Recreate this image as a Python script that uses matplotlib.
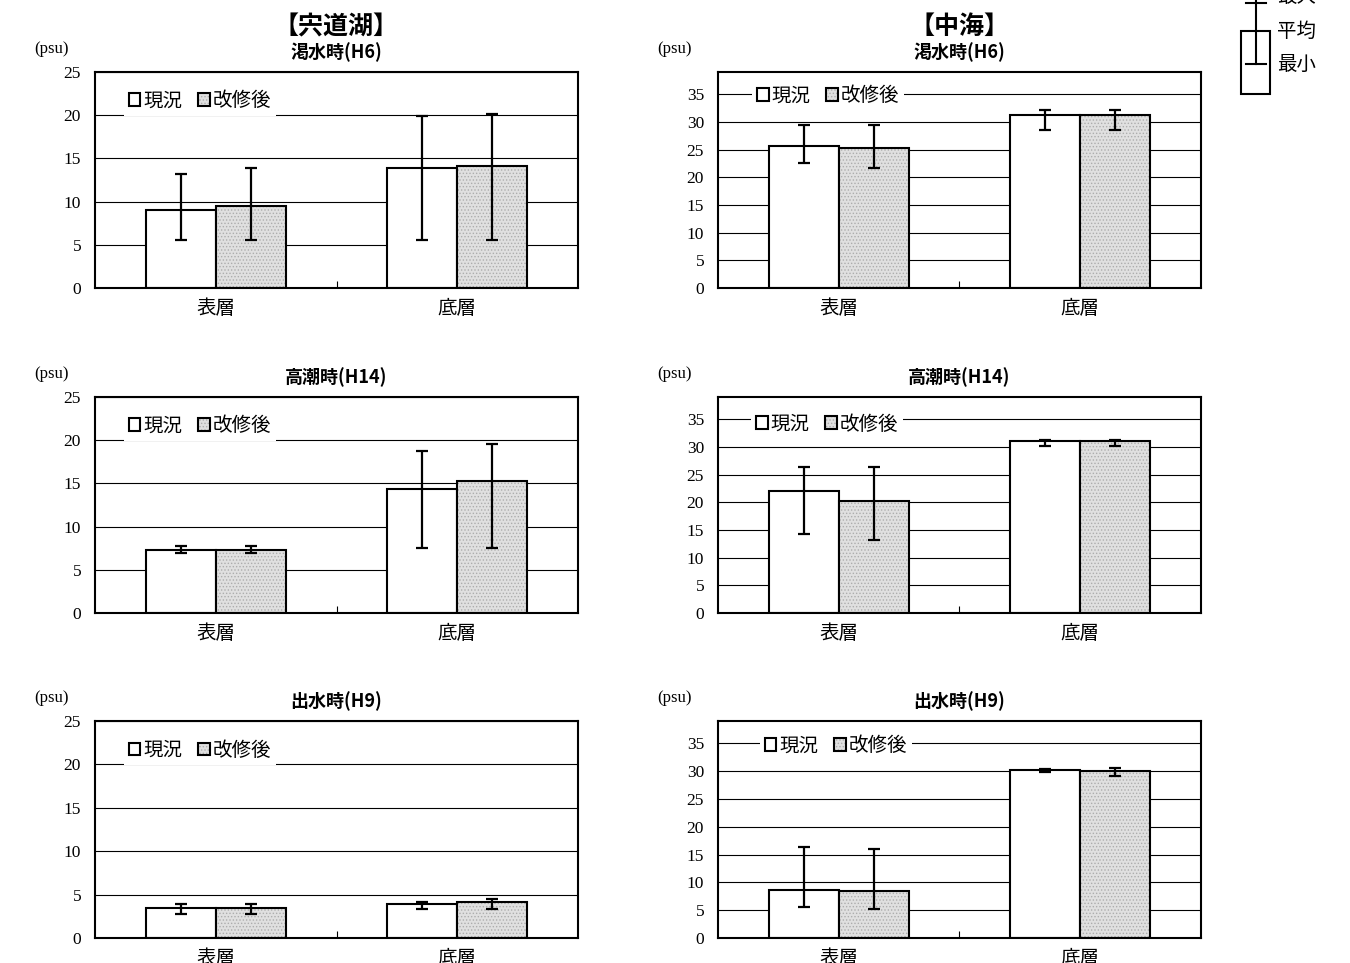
import matplotlib
matplotlib.use('Agg')
import matplotlib.pyplot as plt
from matplotlib.patches import Patch, Rectangle
from matplotlib.legend_handler import HandlerTuple

plt.rcParams['font.family'] = ['Noto Sans CJK JP', 'DejaVu Sans']
plt.rcParams['hatch.linewidth'] = 0.6

layers = ['表層', '底層']
series = ['現況', '改修後']
cases = ['渇水時(H6)', '高潮時(H14)', '出水時(H9)']
lakes = ['【宍道湖】', '【中海】']

# salinity (psu), indexed [case][series][layer]
shinji_avg = [[[9.0, 13.9], [9.5, 14.1]],
              [[7.3, 14.4], [7.3, 15.3]],
              [[3.5, 3.9], [3.5, 4.1]]]
shinji_max = [[[13.2, 19.9], [13.9, 20.1]],
              [[7.8, 18.7], [7.8, 19.6]],
              [[3.9, 4.1], [3.9, 4.5]]]
shinji_min = [[[5.6, 5.6], [5.6, 5.6]],
              [[6.9, 7.5], [6.9, 7.5]],
              [[2.8, 3.35], [2.8, 3.35]]]

nakaumi_avg = [[[25.6, 31.2], [25.3, 31.2]],
               [[22.1, 31.1], [20.2, 31.1]],
               [[8.7, 30.2], [8.5, 30.1]]]
nakaumi_max = [[[29.5, 32.2], [29.4, 32.2]],
               [[26.4, 31.3], [26.4, 31.3]],
               [[16.4, 30.45], [16.0, 30.6]]]
nakaumi_min = [[[22.5, 28.6], [21.6, 28.5]],
               [[14.2, 30.1], [13.2, 30.1]],
               [[5.6, 29.8], [5.2, 29.2]]]

lake_data = [(shinji_avg, shinji_max, shinji_min),
             (nakaumi_avg, nakaumi_max, nakaumi_min)]
lake_ticks = [list(range(0, 30, 5)), list(range(0, 40, 5))]
lake_ylim = [25, 39]

W, H = 1350, 963
fig = plt.figure(figsize=(W / 100, H / 100), dpi=100)

col_x = [95, 718]
ax_w = 483
row_y = [(72, 288), (397, 613), (721, 938)]
leg_pos = [[(0.217, 0.866), (0.217, 0.866), (0.217, 0.866)],
           [(0.228, 0.889), (0.226, 0.875), (0.244, 0.885)]]

bw = 0.29
x = [0, 1]
fill_gray = '#e0e0e0'
dot_gray = '#adadad'

h_now = Patch(facecolor='white', edgecolor='black', linewidth=1.5)
h_new = (Patch(facecolor=fill_gray, edgecolor=dot_gray, hatch='.....', linewidth=0),
         Patch(facecolor='none', edgecolor='black', linewidth=1.5))

for c in range(2):
    avg, vmax, vmin = lake_data[c]
    for r in range(3):
        top, bot = row_y[r]
        ax = fig.add_axes([col_x[c] / W, 1 - bot / H, ax_w / W, (bot - top) / H])
        for s in range(2):
            xs = [xi + (s - 0.5) * bw for xi in x]
            m = avg[r][s]
            if s == 0:
                ax.bar(xs, m, bw, facecolor='white', edgecolor='black', linewidth=1.5, zorder=2)
            else:
                ax.bar(xs, m, bw, facecolor=fill_gray, edgecolor=dot_gray, hatch='.....',
                       linewidth=0, zorder=2)
                ax.bar(xs, m, bw, facecolor='none', edgecolor='black', linewidth=1.5, zorder=2.1)
            lo = [m[i] - vmin[r][s][i] for i in range(2)]
            hi = [vmax[r][s][i] - m[i] for i in range(2)]
            ax.errorbar(xs, m, yerr=[lo, hi], fmt='none', ecolor='black',
                        elinewidth=1.6, capsize=4.5, capthick=1.6, zorder=3)

        ax.set_xlim(-0.5, 1.5)
        ax.set_ylim(0, lake_ylim[c])
        ax.set_xticks(x, labels=layers, fontsize=14)
        ax.set_xticks([0.5], minor=True)
        ax.tick_params(axis='x', which='major', length=0, pad=7)
        ax.tick_params(axis='x', which='minor', direction='in', length=5, width=0.8)
        ax.set_yticks(lake_ticks[c], labels=[str(t) for t in lake_ticks[c]],
                      fontfamily='Liberation Serif', fontsize=12.5)
        ax.tick_params(axis='y', length=0, pad=10)
        ax.yaxis.grid(True, color='black', linewidth=0.8)
        ax.set_axisbelow(True)
        for sp in ax.spines.values():
            sp.set_linewidth(1.5)

        leg = ax.legend([h_now, h_new], series, loc='center', bbox_to_anchor=leg_pos[c][r],
                        ncol=2, fontsize=14, frameon=True, fancybox=False, framealpha=1,
                        facecolor='white', edgecolor='none', borderpad=0.25,
                        handlelength=0.6, handleheight=0.6, handletextpad=0.15,
                        columnspacing=0.8,
                        handler_map={tuple: HandlerTuple(ndivide=1, pad=0)})
        leg.set_zorder(4)

        cx = col_x[c] + ax_w / 2
        fig.text(cx / W, 1 - (top - 20) / H, cases[r], ha='center', va='center',
                 fontsize=13, fontweight='bold')
        fig.text((col_x[c] - 61) / W, 1 - (top - 23) / H, '(psu)', ha='left', va='center',
                 fontfamily='Liberation Serif', fontsize=12)

    fig.text((col_x[c] + ax_w / 2) / W, 1 - 27 / H, lakes[c], ha='center', va='center',
             fontsize=18, fontweight='bold')

# key for the error bar symbols, top right corner (pixel coordinates)
ov = fig.add_axes([0, 0, 1, 1])
ov.set_xlim(0, W)
ov.set_ylim(H, 0)
ov.axis('off')
ov.add_patch(Rectangle((1241, 31), 29, 63, facecolor='none', edgecolor='black', linewidth=1.5))
ov.plot([1256, 1256], [-5, 64], color='black', linewidth=1.5)
ov.plot([1246, 1266], [3, 3], color='black', linewidth=1.5)
ov.plot([1246, 1266], [64, 64], color='black', linewidth=1.5)
for ty, txt in [(-3, '最大'), (31, '平均'), (64, '最小')]:
    ov.text(1277, ty, txt, ha='left', va='center', fontsize=14)

fig.savefig('out.png', dpi=100)
